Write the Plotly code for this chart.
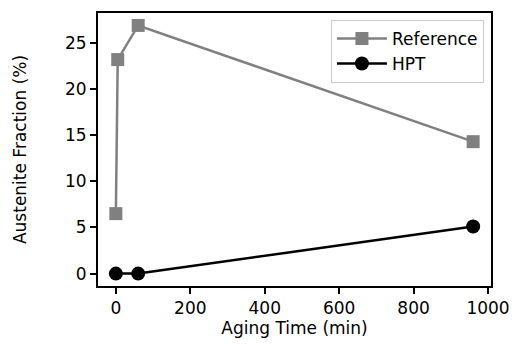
import plotly.graph_objects as go

ref_x = [0, 5, 60, 960]
ref_y = [6.5, 23.2, 26.9, 14.3]
hpt_x = [0, 60, 960]
hpt_y = [0.0, 0.0, 5.1]

font = "DejaVu Sans"
fs = 17
fig = go.Figure()
fig.add_trace(go.Scatter(x=ref_x, y=ref_y, mode="lines+markers", name="Reference",
                         line=dict(color="#808080", width=2.5),
                         marker=dict(symbol="square", size=13, color="#808080")))
fig.add_trace(go.Scatter(x=hpt_x, y=hpt_y, mode="lines+markers", name="HPT",
                         line=dict(color="black", width=2.5),
                         marker=dict(symbol="circle", size=14, color="black")))

axis_common = dict(showline=True, linecolor="black", linewidth=2, mirror=True,
                   ticks="outside", ticklen=6, tickwidth=1.5, tickcolor="black",
                   showgrid=False, zeroline=False,
                   tickfont=dict(family=font, size=fs, color="black"))
fig.update_xaxes(range=[-48, 1008], tickvals=[0, 200, 400, 600, 800, 1000],
                 title=dict(text="Aging Time (min)", font=dict(family=font, size=fs, color="black"), standoff=4),
                 **axis_common)
fig.update_yaxes(range=[-1.345, 28.25], tickvals=[0, 5, 10, 15, 20, 25],
                 title=dict(text="Austenite Fraction (%)", font=dict(family=font, size=fs, color="black"), standoff=34),
                 **axis_common)
fig.update_layout(width=521, height=345, margin=dict(l=98, r=24, t=11, b=58),
                  plot_bgcolor="white", paper_bgcolor="white",
                  font=dict(family=font, size=fs, color="black"),
                  legend=dict(x=0.982, y=0.975, xanchor="right", yanchor="top",
                              bgcolor="rgba(255,255,255,0.8)", bordercolor="#cccccc", borderwidth=1,
                              font=dict(family=font, size=fs, color="black"),
                              tracegroupgap=0, itemwidth=50))
fig.write_html("out.html")
